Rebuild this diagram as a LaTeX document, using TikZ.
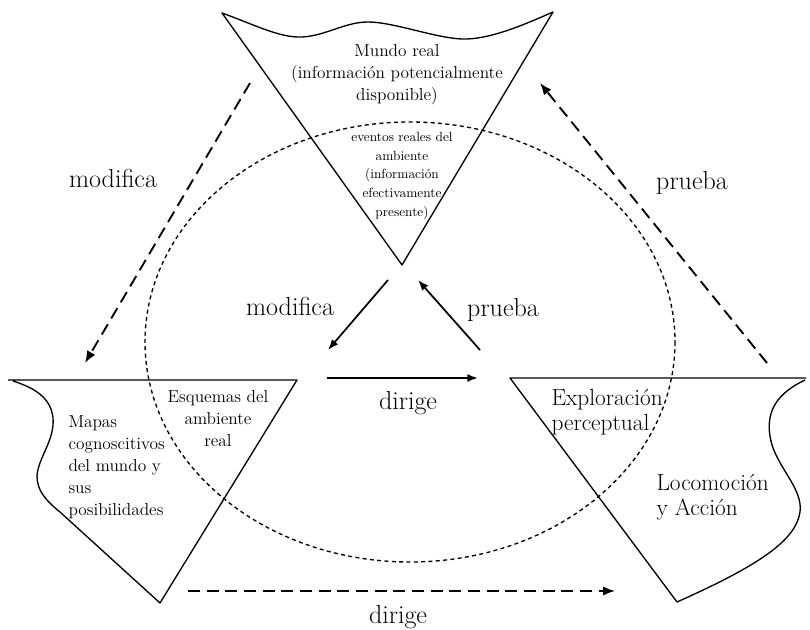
\documentclass[tikz,border=0pt]{standalone}
\usetikzlibrary{arrows.meta}

\tikzset{every picture/.style={line width=0.75pt},
  outline/.style={line width=1pt, line join=round},
  dotring/.style={line width=1pt, dash pattern=on 3pt off 2.5pt},
  dasharrow/.style={line width=1.4pt, dash pattern=on 9pt off 5pt, -{Latex[length=9pt,width=7pt]}},
  solidarrow/.style={line width=1.3pt, -{Latex[length=8pt,width=6pt]}},
  lbltxt/.style={inner sep=0.75pt, font=\fontsize{19.5}{22}\selectfont},
  toptxt/.style={inner sep=0.75pt, align=center, font=\fontsize{13}{16.5}\selectfont},
  smalltxt/.style={inner sep=0.75pt, align=center, font=\fontsize{10}{14}\selectfont},
  midtxt/.style={inner sep=0.75pt, font=\fontsize{13}{16.5}\selectfont},
  righttxt/.style={inner sep=0.75pt, align=left, font=\fontsize{17.5}{19}\selectfont}
}

\begin{document}
\begin{tikzpicture}[x=0.75pt,y=0.75pt,yscale=-1,xscale=1]
    %set diagram size to 810 x 630
    \useasboundingbox (0,0) rectangle (810,630);
    
    %Shape: Free Drawing [id:mundo]
    \draw [outline] (222,13) .. controls (255,25) and (280,38) .. (302,37) .. controls (325,36) and (345,22) .. (368,22) .. controls (395,22) and (440,40) .. (467,39) .. controls (495,38) and (530,22) .. (553,12) -- (402,265) -- cycle ;
    %Shape: Free Drawing [id:mapas]
    \draw [outline] (8,380) -- (297,380) -- (160,603) -- (60,512) .. controls (45,500) and (37,490) .. (37,476) .. controls (38,458) and (55,440) .. (53,418) .. controls (51,398) and (35,388) .. (13,381) ;
    %Shape: Free Drawing [id:accion]
    \draw [outline] (806,378) -- (510,378) -- (677,602) .. controls (760,565) and (796,540) .. (800,512) .. controls (803,490) and (780,470) .. (772,445) .. controls (762,410) and (780,392) .. (805,380) ;
    %Shape: Ellipse [id:ambiente]
    \draw [dotring] (410,342) ellipse [x radius=265, y radius=220] ;
    
    %Arrow ends
    \coordinate (modA) at (250,83);
    \coordinate (modB) at (85,363);
    \coordinate (pruA) at (767,363);
    \coordinate (pruB) at (540,83);
    \coordinate (dirA) at (188,591);
    \coordinate (dirB) at (615,591);
    \coordinate (imodA) at (388,280);
    \coordinate (imodB) at (328,350);
    \coordinate (ipruA) at (480,350);
    \coordinate (ipruB) at (418,280);
    \coordinate (idirA) at (327,378);
    \coordinate (idirB) at (478,378);
    
    %Straight Lines [id:outer]
    \draw [dasharrow] (modA) -- (modB) ;
    \draw [dasharrow] (pruA) -- (pruB) ;
    \draw [dasharrow] (dirA) -- (dirB) ;
    %Straight Lines [id:inner]
    \draw [solidarrow] (imodA) -- (imodB) ;
    \draw [solidarrow] (ipruA) -- (ipruB) ;
    \draw [solidarrow] (idirA) -- (idirB) ;
    
    % Text Node
    \draw (397,75) node [toptxt] (mundo) {Mundo real\\(información potencialmente\\disponible)};
    % Text Node
    \draw (402,176) node [smalltxt] (eventos) {eventos reales del\\ambiente\\(información\\efectivamente\\presente)};
    % Text Node
    \draw (67,467) node [midtxt, anchor=west, align=left] (mapas) {Mapas\\cognoscitivos\\del mundo y\\sus\\posibilidades};
    % Text Node
    \draw (218,419) node [midtxt, align=center] (esquemas) {Esquemas del\\ambiente\\real};
    % Text Node
    \draw (550,412) node [righttxt, anchor=west] (explora) {Exploración\\perceptual};
    % Text Node
    \draw (655,497) node [righttxt, anchor=west] (locomo) {Locomoción\\y Acción};
    
    % Text Node
    \draw (113,178) node [lbltxt] (lblModA) {modifica};
    % Text Node
    \draw (692,183) node [lbltxt] (lblPruA) {prueba};
    % Text Node
    \draw (398,617) node [lbltxt] (lblDirA) {dirige};
    % Text Node
    \draw (290,306) node [lbltxt] (lblModB) {modifica};
    % Text Node
    \draw (503,310) node [lbltxt] (lblPruB) {prueba};
    % Text Node
    \draw (408,403) node [lbltxt] (lblDirB) {dirige};
    
\end{tikzpicture}
\end{document}
